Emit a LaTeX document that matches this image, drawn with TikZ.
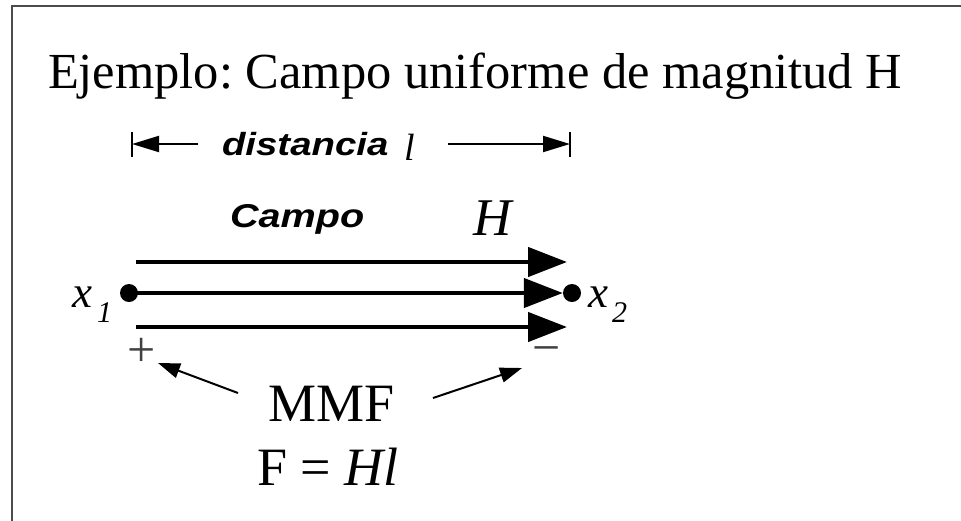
\documentclass[tikz,border=0pt]{standalone}
\usepackage{fontspec}
\setmainfont{Liberation Serif}
\setsansfont{Liberation Sans}
\usetikzlibrary{arrows.meta}
\tikzset{
  txt/.style={inner sep=0pt, outer sep=0pt, anchor=base west},
  dimline/.style={line width=2pt, -{Triangle[length=27pt,width=16pt]}},
  fieldline/.style={line width=4.5pt, -{Triangle[length=39pt,width=29pt]}},
  mmfarrow/.style={line width=2pt, -{Triangle[length=22pt,width=15pt]}},
  bar/.style={line width=2pt},
  dotnode/.style={circle, fill=black, inner sep=0pt, minimum size=18pt},
}
\begin{document}
\frenchspacing
\begin{tikzpicture}[x=1pt,y=-1pt]
\useasboundingbox (0,0) rectangle (961,520);
\draw[line width=2.5pt, black!70] (12,521) -- (12,6) -- (962,6);
% title
\node[txt] (title) at (48,88) {\fontsize{50.5}{60}\selectfont Ejemplo: Campo uniforme de magnitud H};
% dimension
\coordinate (dl) at (132,144);
\coordinate (dr) at (570,144);
\coordinate (dlin) at (198,144);
\coordinate (drin) at (448,144);
\draw[bar] (132,132) -- (132,157);
\draw[bar] (570,132) -- (570,157);
\draw[dimline] (dlin) -- (dl);
\draw[dimline] (drin) -- (dr);
\node[txt] (dist) at (222,155) {\fontsize{32}{36}\selectfont\scalebox{1.2}[1]{\sffamily\bfseries\itshape distancia}};
\node[txt] (ell) at (404,160) {\fontsize{38}{42}\selectfont\itshape l};
% campo
\node[txt] (campo) at (230,227) {\fontsize{33}{38}\selectfont\scalebox{1.2}[1]{\sffamily\bfseries\itshape Campo}};
\node[txt] (H) at (473,235) {\fontsize{53}{60}\selectfont\itshape H};
% field lines
\node[dotnode] (x1dot) at (129,293) {};
\node[dotnode] (x2dot) at (572,293) {};
\coordinate (a1) at (136,262);
\coordinate (b1) at (567,262);
\coordinate (a3) at (136,327);
\coordinate (b3) at (567,327);
\draw[fieldline] (a1) -- (b1);
\draw[fieldline] (x1dot.center) -- (x2dot.west);
\draw[fieldline] (a3) -- (b3);
% x labels
\node[txt] (x1) at (72,307) {\fontsize{45}{52}\selectfont\itshape x};
\node[txt] (x1s) at (97,322) {\fontsize{30}{34}\selectfont\itshape 1};
\node[txt] (x2) at (588,307) {\fontsize{45}{52}\selectfont\itshape x};
\node[txt] (x2s) at (612,322) {\fontsize{30}{34}\selectfont\itshape 2};
% plus minus
\node[inner sep=0pt, black!75] (plus) at (142,352) {\fontsize{50}{56}\selectfont +};
\node[inner sep=0pt, black!75] (minus) at (547,356) {\fontsize{50}{56}\selectfont −};
% MMF
\node[txt] (mmf) at (268,421) {\fontsize{54}{60}\selectfont MMF};
\node[txt] (eq) at (257,485) {\fontsize{54}{60}\selectfont F = \textit{Hl}};
\coordinate (lt) at (238,393);
\coordinate (lh) at (158,363);
\coordinate (rt) at (433,398);
\coordinate (rh) at (522,368);
\draw[mmfarrow] (lt) -- (lh);
\draw[mmfarrow] (rt) -- (rh);
\end{tikzpicture}
\end{document}
